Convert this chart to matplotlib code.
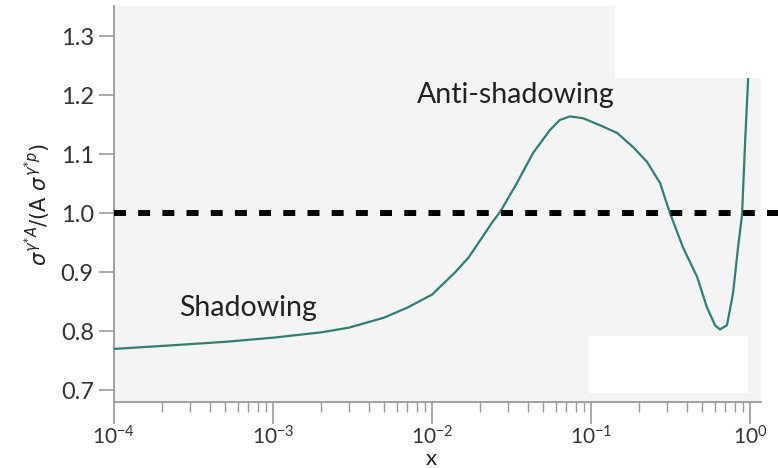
import numpy as np
import matplotlib
matplotlib.use('Agg')
import matplotlib.pyplot as plt
from matplotlib.patches import Rectangle
from matplotlib.ticker import LogLocator

plt.rcParams['font.family'] = ['Lato', 'DejaVu Sans']

# ratio curve
x_vals = [1e-4, 2e-4, 5e-4, 1e-3, 2e-3, 3e-3, 5e-3, 7e-3, 1e-2, 1.4e-2, 1.7e-2,
          2.4e-2, 2.68e-2, 3.42e-2, 4.32e-2, 5.52e-2, 6.37e-2, 7.38e-2, 8.91e-2,
          0.114, 0.146, 0.184, 0.225, 0.272, 0.314, 0.379, 0.465, 0.535, 0.603,
          0.647, 0.716, 0.782, 0.841, 0.891, 0.931, 0.975]
ratio = [0.770, 0.775, 0.782, 0.789, 0.798, 0.806, 0.823, 0.840, 0.862, 0.900, 0.925,
         0.985, 1.002, 1.051, 1.102, 1.141, 1.158, 1.164, 1.161,
         1.149, 1.136, 1.112, 1.087, 1.051, 1.000, 0.942, 0.892, 0.841, 0.810,
         0.803, 0.810, 0.864, 0.942, 0.997, 1.119, 1.232]
y_ticks = [0.7, 0.8, 0.9, 1.0, 1.1, 1.2, 1.3]
x_ticks = [1e-4, 1e-3, 1e-2, 1e-1, 1e0]

fig = plt.figure(figsize=(7.78, 4.68), dpi=100)
ax = fig.add_axes([0.1465, 0.141, 0.8316, 0.846])
ax.set_facecolor('#f4f4f4')

ax.plot(x_vals, ratio, color='#2f7f72', lw=1.6, zorder=3)
ax.axhline(1.0, xmin=0, xmax=1.03, color='black', lw=4.3, dashes=(2.0, 2.05),
           clip_on=False, zorder=4)

ax.set_xscale('log')
ax.set_xlim(1e-4, 1.172)
ax.set_ylim(0.680, 1.351)
ax.set_xticks(x_ticks)
ax.xaxis.set_minor_locator(LogLocator(base=10, subs=np.arange(2, 10)))
ax.set_yticks(y_ticks)
ax.set_yticklabels([f'{v:.1f}' for v in y_ticks])

for s in ['top', 'right']:
    ax.spines[s].set_visible(False)
for s in ['left', 'bottom']:
    ax.spines[s].set_color('#9a9a9a')
    ax.spines[s].set_linewidth(1.3)

ax.tick_params(axis='both', which='major', colors='#9a9a9a', labelcolor='#333333',
               labelsize=17, length=11, width=1.2)
ax.tick_params(axis='x', which='minor', colors='#9a9a9a', length=7, width=1.0)
ax.tick_params(axis='x', which='major', length=16, pad=1, labelsize=15)

# white patches in the original image
ax.add_patch(Rectangle((0.774, 0.818), 0.24, 0.19, transform=ax.transAxes,
                       facecolor='white', edgecolor='none', zorder=5, clip_on=False))
ax.add_patch(Rectangle((0.734, 0.023), 0.246, 0.144, transform=ax.transAxes,
                       facecolor='white', edgecolor='none', zorder=2))

ax.text(0.468, 0.776, 'Anti-shadowing', transform=ax.transAxes, fontsize=20.5,
        color='#222222', ha='left', va='center', zorder=6)
ax.text(0.100, 0.237, 'Shadowing', transform=ax.transAxes, fontsize=20.5,
        color='#222222', ha='left', va='center', zorder=6)

ax.set_xlabel('x', fontsize=16, color='#222222')
ax.xaxis.label.set_va('center')
ax.xaxis.set_label_coords(0.49, -0.143)
ax.set_ylabel(r'$\sigma^{\gamma^{*}A}/(\mathrm{A}\ \sigma^{\gamma^{*}p})$',
              fontsize=15, color='#222222', labelpad=6)

fig.savefig('out.png', dpi=100)
